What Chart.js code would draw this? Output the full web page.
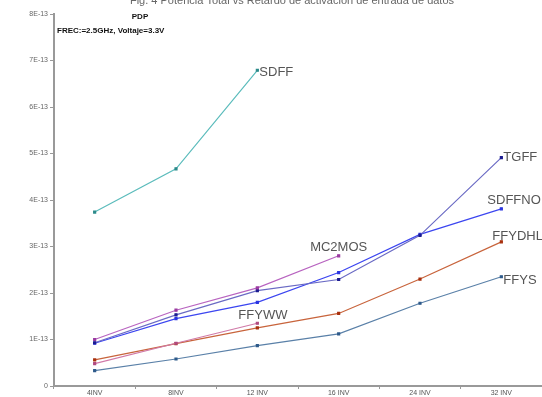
<!DOCTYPE html>
<html>
<head>
<meta charset="utf-8">
<script src="https://cdn.jsdelivr.net/npm/chart.js@4/dist/chart.umd.min.js"></script>
<style>
  html, body { margin: 0; padding: 0; background: #fff; }
  #wrap { width: 542px; height: 397px; position: relative; }
</style>
</head>
<body>
<div id="wrap"><canvas id="c" width="542" height="397"></canvas></div>
<script>
// Categories: number of inverters driven as load
const categories = ['4INV', '8INV', '12 INV', '16 INV', '24 INV', '32 INV'];

// Power-delay product (J) for each flip-flop
const sdff   = [3.74e-13, 4.67e-13, 6.79e-13, null, null, null];
const mc2mos = [1.00e-13, 1.63e-13, 2.11e-13, 2.80e-13, null, null];
const tgff   = [0.93e-13, 1.53e-13, 2.05e-13, 2.29e-13, 3.24e-13, 4.91e-13];
const sdffno = [0.92e-13, 1.45e-13, 1.80e-13, 2.44e-13, 3.26e-13, 3.81e-13];
const ffyww  = [0.48e-13, 0.92e-13, 1.35e-13, null, null, null];
const ffydhl = [0.56e-13, 0.91e-13, 1.25e-13, 1.56e-13, 2.30e-13, 3.10e-13];
const ffys   = [0.33e-13, 0.58e-13, 0.87e-13, 1.12e-13, 1.78e-13, 2.35e-13];

// Y tick labels
const yTickLabels = ['0', '1E-13', '2E-13', '3E-13', '4E-13', '5E-13', '6E-13', '7E-13', '8E-13'];

const FONT = '"Liberation Sans", Arial, sans-serif';

function series(label, data, line, point, lbl) {
  return {
    label, data,
    borderColor: line, backgroundColor: point,
    pointBorderColor: point, pointBackgroundColor: point,
    borderWidth: 1.2, pointRadius: 1.4, pointStyle: 'rect',
    spanGaps: false, tension: 0, lbl
  };
}

const datasets = [
  series('SDFF',   sdff,   '#5cbcbc', '#2c8a8a', { dx: 2,   dy: 2,  align: 'left' }),
  series('MC2MOS', mc2mos, '#b864c0', '#9a3aa0', { dx: 0,   dy: -8, align: 'center' }),
  series('TGFF',   tgff,   '#6a6ac4', '#1c1c90', { dx: 2,   dy: 0,  align: 'left' }),
  series('SDFFNO', sdffno, '#3c46f0', '#2a34e0', { dx: -14, dy: -8, align: 'left' }),
  series('FFYWW',  ffyww,  '#d07aa8', '#b04a80', { dx: -19, dy: -8, align: 'left' }),
  series('FFYDHL', ffydhl, '#c8643c', '#a8300e', { dx: -9,  dy: -5, align: 'left' }),
  series('FFYS',   ffys,   '#5a80a8', '#2e5a8a', { dx: 2,   dy: 4,  align: 'left' })
];

// Draws the series names beside the last point of each line, and the header text
const annotate = {
  id: 'annotate',
  afterDatasetsDraw(chart) {
    const ctx = chart.ctx;
    ctx.save();
    ctx.font = '13px ' + FONT;
    ctx.fillStyle = '#555';
    ctx.textBaseline = 'middle';
    chart.data.datasets.forEach((ds, i) => {
      const meta = chart.getDatasetMeta(i);
      let last = -1;
      ds.data.forEach((v, j) => { if (v !== null) last = j; });
      const pt = meta.data[last];
      ctx.textAlign = ds.lbl.align;
      ctx.fillText(ds.label, pt.x + ds.lbl.dx, pt.y + ds.lbl.dy);
    });
    ctx.fillStyle = '#111';
    ctx.font = 'bold 8px ' + FONT;
    ctx.textAlign = 'center';
    ctx.fillText('PDP', 140, 17);
    ctx.textAlign = 'left';
    ctx.fillText('FREC:=2.5GHz, Voltaje=3.3V', 57, 31);
    ctx.fillStyle = '#666';
    ctx.font = '11px ' + FONT;
    ctx.textAlign = 'center';
    ctx.fillText('Fig. 4 Potencia Total vs Retardo de activación de entrada de datos', 292, 1);
    ctx.restore();
  }
};

new Chart(document.getElementById('c'), {
  type: 'line',
  data: { labels: categories, datasets },
  plugins: [annotate],
  options: {
    responsive: false,
    animation: false,
    layout: { autoPadding: false, padding: { top: 14, right: 0, bottom: 0, left: 0 } },
    plugins: { legend: { display: false }, tooltip: { enabled: false } },
    scales: {
      x: {
        type: 'category',
        offset: true,
        grid: { display: true, offset: true, drawOnChartArea: false, drawTicks: true, tickLength: 3, color: '#999' },
        border: { display: true, color: '#999', width: 2 },
        ticks: { font: { size: 7, family: FONT }, color: '#555', padding: 0, maxRotation: 0 },
        afterFit(scale) { scale.height = 11; scale.paddingLeft = 0; scale.paddingRight = 0; }
      },
      y: {
        min: 0, max: 8e-13,
        grid: { display: true, drawOnChartArea: false, drawTicks: true, tickLength: 4, color: '#999' },
        border: { display: true, color: '#999', width: 2 },
        ticks: {
          stepSize: 1e-13,
          font: { size: 7, family: FONT }, color: '#666', padding: 2,
          callback: (v, i) => yTickLabels[i]
        },
        afterFit(scale) { scale.width = 54; }
      }
    }
  }
});
</script>
</body>
</html>
